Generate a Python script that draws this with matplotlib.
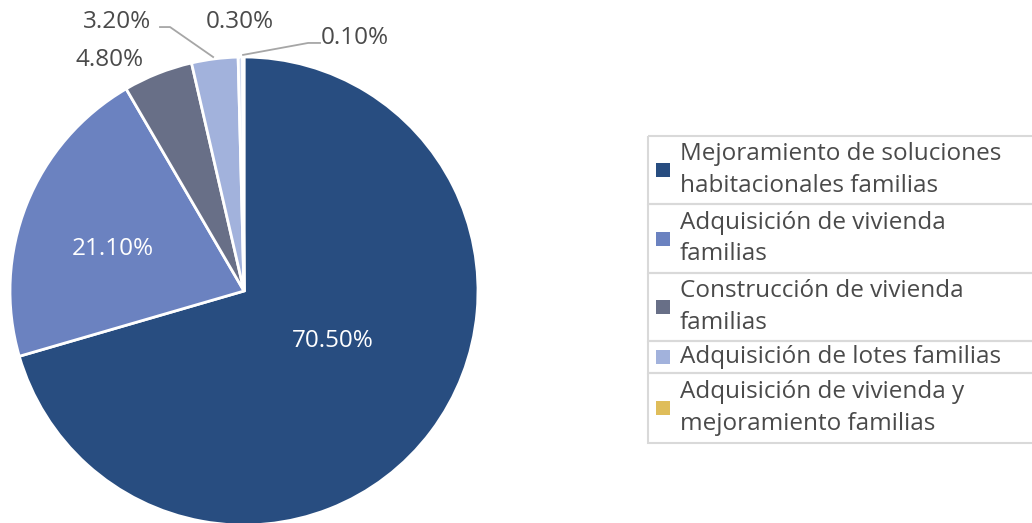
import matplotlib
matplotlib.use("Agg")
import matplotlib.pyplot as plt
from matplotlib.patches import Rectangle

plt.rcParams['font.family'] = ['Open Sans', 'DejaVu Sans']

# data
categories = [
    "Mejoramiento de soluciones\nhabitacionales familias",
    "Adquisición de vivienda\nfamilias",
    "Construcción de vivienda\nfamilias",
    "Adquisición de lotes familias",
    "Adquisición de vivienda y\nmejoramiento familias",
    "Otros",
]
shares = [70.5, 21.1, 4.8, 3.2, 0.3, 0.1]
value_labels = ["70.50%", "21.10%", "4.80%", "3.20%", "0.30%", "0.10%"]
slice_colors = ['#284d80', '#6b82c0', '#686f87', '#a2b2dc', '#d3dcf0', '#dfbd5a']
legend_colors = ['#284d80', '#6b82c0', '#686f87', '#a2b2dc', '#dfbd5a']

W, H = 1032, 523
fig = plt.figure(figsize=(W / 100, H / 100), dpi=100)

# pie: centre (244, 291) px, radius 234 px
cx, cy, r = 244, 291, 234
ax = fig.add_axes([(cx - r) / W, (H - cy - r) / H, 2 * r / W, 2 * r / H])
wedges, _ = ax.pie(shares, colors=slice_colors, startangle=90, counterclock=False,
                   radius=1.0, wedgeprops=dict(edgecolor='white', linewidth=2.0))
ax.set_xlim(-1, 1)
ax.set_ylim(-1, 1)
ax.set_aspect('equal')
ax.axis('off')

txt = '#4a4a4a'
fs = 17.5
# inside labels
ax.text(0.38, -0.214, value_labels[0], color='white', fontsize=fs, ha='center', va='center')
ax.text(-0.56, 0.18, value_labels[1], color='white', fontsize=fs, ha='center', va='center')
# outside labels
ax.text(-0.573, 0.987, value_labels[2], color=txt, fontsize=fs, ha='center', va='center', clip_on=False)
ax.text(-0.543, 1.15, value_labels[3], color=txt, fontsize=fs, ha='center', va='center', clip_on=False)
ax.text(-0.017, 1.15, value_labels[4], color=txt, fontsize=fs, ha='center', va='center', clip_on=False)
ax.text(0.474, 1.081, value_labels[5], color=txt, fontsize=fs, ha='center', va='center', clip_on=False)
# leader lines
ax.plot([-0.359, -0.316, -0.132], [1.128, 1.128, 1.0], color='#a6a6a6', lw=1.3, clip_on=False)
ax.plot([-0.004, 0.274, 0.325], [1.009, 1.06, 1.06], color='#a6a6a6', lw=1.3, clip_on=False)

# legend drawn in pixel space
lax = fig.add_axes([0, 0, 1, 1])
lax.set_xlim(0, W)
lax.set_ylim(H, 0)
lax.axis('off')
rows = [136, 204, 273, 341, 373, 443]
for i, (lab, col) in enumerate(zip(categories[:5], legend_colors)):
    top, bot = rows[i], rows[i + 1]
    lax.add_patch(Rectangle((648, top), 400, bot - top, facecolor='none',
                            edgecolor='#d9d9d9', lw=1.5))
    mid = (top + bot) / 2
    lax.add_patch(Rectangle((656, mid - 7), 14, 14, facecolor=col, edgecolor='none'))
    lax.text(680, mid, lab, color=txt, fontsize=fs, ha='left', va='center',
             linespacing=1.42)

fig.savefig('out.png', dpi=100)
